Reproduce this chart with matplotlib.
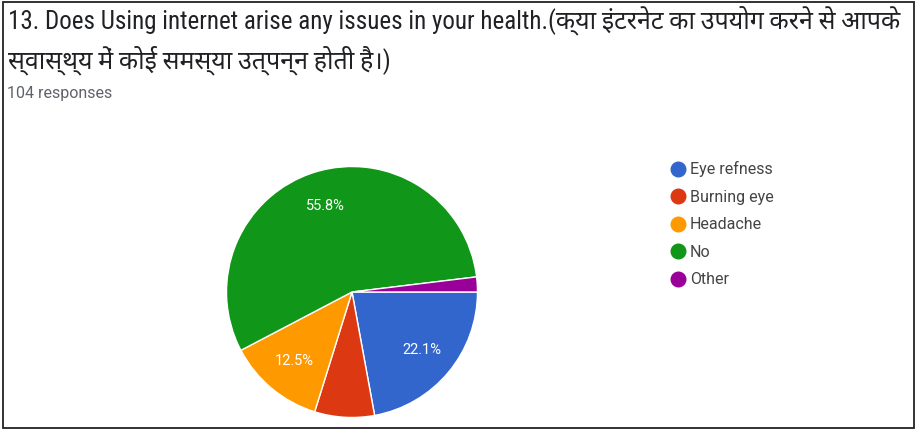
import matplotlib
matplotlib.use("Agg")
import matplotlib.pyplot as plt
from matplotlib.lines import Line2D
from matplotlib.patches import Rectangle

# survey answers (count of responses per option)
labels = ["Eye refness", "Burning eye", "Headache", "No", "Other"]
counts = [23, 8, 13, 58, 2]
colors = ["#3366cc", "#dc3912", "#ff9900", "#109618", "#990099"]

title_line1 = "13. Does Using internet arise any issues in your health.(क्या इंटरनेट का उपयोग करने से आपके"
title_line2 = "स्वास्थ्य में कोई समस्या उत्पन्न होती है।)"
subtitle = "104 responses"

title_fonts = ["Roboto Condensed", "Roboto", "Noto Sans Devanagari", "Hind", "DejaVu Sans"]
body_fonts = ["Roboto", "DejaVu Sans"]
plt.rcParams["font.family"] = body_fonts

W, H = 917, 430
fig = plt.figure(figsize=(W / 100, H / 100), dpi=100)

# outer frame
fig.patches.append(Rectangle((3 / W, 2 / H), 911 / W, 426 / H, transform=fig.transFigure,
                             fill=False, edgecolor="#222222", linewidth=1.3))

fig.text(8 / W, 1 - 28 / H, title_line1, fontsize=18, color="#202124", va="baseline",
         family=title_fonts)
fig.text(8 / W, 1 - 68 / H, title_line2, fontsize=18, color="#202124", va="baseline",
         family=title_fonts)
fig.text(7 / W, 1 - 98 / H, subtitle, fontsize=11.5, color="#5f6368", va="baseline")

# pie
cx, cy, r = 352, 292, 128
ax = fig.add_axes([(cx - r) / W, (H - cy - r) / H, 2 * r / W, 2 * r / H])


def pct_label(p):
    return "%.1f%%" % p if p >= 10 else ""


wedges, texts, autotexts = ax.pie(
    counts, colors=colors, startangle=0, counterclock=False,
    autopct=pct_label, pctdistance=0.72,
    wedgeprops=dict(edgecolor="white", linewidth=1.0),
    textprops=dict(color="white", fontsize=10.5),
)
ax.set_xlim(-1.02, 1.02)
ax.set_ylim(-1.02, 1.02)
ax.set_aspect("equal")
ax.axis("off")

# legend
handles = [Line2D([0], [0], marker="o", linestyle="", markersize=10.5,
                  markerfacecolor=c, markeredgecolor=c) for c in colors]
fig.legend(handles, labels, loc="upper left", bbox_to_anchor=(654 / W, 1 - 147 / H),
           frameon=False, fontsize=11.5, labelspacing=0.78, handletextpad=0.15,
           handlelength=1.2, labelcolor="#444444")

fig.savefig("out.png", dpi=100)
